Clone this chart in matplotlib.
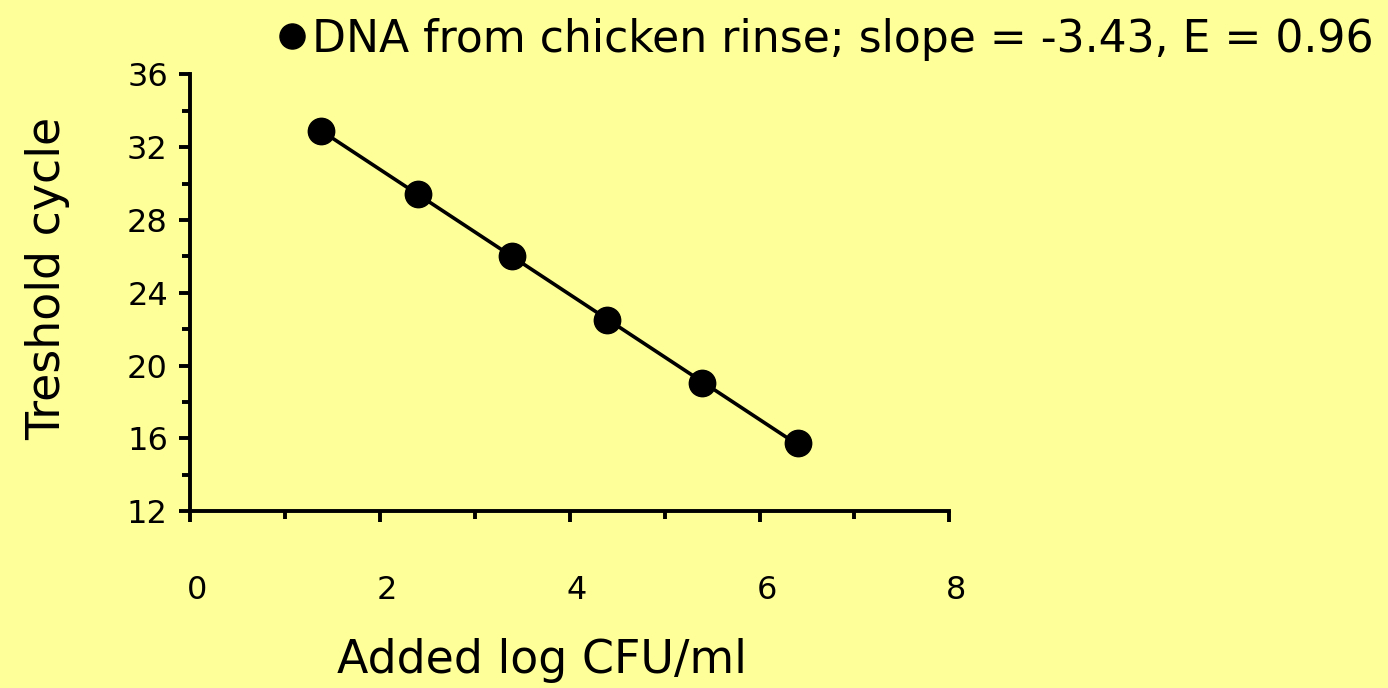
import numpy as np
import matplotlib
matplotlib.use('Agg')
import matplotlib.pyplot as plt
import matplotlib.transforms as mtransforms
from matplotlib.ticker import MultipleLocator

# Data
log_cfu = [1.38, 2.40, 3.39, 4.39, 5.39, 6.40]
ct = [32.9, 29.45, 26.0, 22.5, 19.05, 15.75]
legend_label = 'DNA from chicken rinse; slope = -3.43, E = 0.96'
x_ticks = [0, 2, 4, 6, 8]
y_ticks = [12, 16, 20, 24, 28, 32, 36]

bg = '#FFFF99'
plt.rcParams['font.family'] = ['DejaVu Sans']

fig = plt.figure(figsize=(13.88, 6.88), dpi=100, facecolor=bg)
ax = fig.add_axes([0.137, 0.257, 0.547, 0.635])
ax.set_facecolor(bg)

# fit line across the measured range
k, b = np.polyfit(log_cfu, ct, 1)
xs = np.array([min(log_cfu), max(log_cfu)])
ax.plot(xs, k * xs + b, color='black', lw=2.6, zorder=2)
ax.plot(log_cfu, ct, 'o', color='black', ms=19, zorder=3, label=legend_label)

ax.set_xlim(0, 8)
ax.set_ylim(12, 36)
ax.set_xticks(x_ticks)
ax.set_yticks(y_ticks)
ax.xaxis.set_minor_locator(MultipleLocator(1))
ax.yaxis.set_minor_locator(MultipleLocator(2))

for side in ['top', 'right']:
    ax.spines[side].set_visible(False)
for side in ['left', 'bottom']:
    ax.spines[side].set_linewidth(2.8)

ax.tick_params(axis='both', which='major', direction='out', length=8, width=2.8, labelsize=23)
ax.tick_params(axis='both', which='minor', direction='out', length=6, width=2.8)
ax.tick_params(axis='x', which='major', pad=38)
ax.tick_params(axis='y', which='major', pad=8)

# x tick labels sit a little right of their ticks in the original
shift = mtransforms.ScaledTranslation(0.07, 0, fig.dpi_scale_trans)
for lbl in ax.get_xticklabels():
    lbl.set_transform(lbl.get_transform() + shift)

ax.set_xlabel('Added log CFU/ml', fontsize=33)
ax.set_ylabel('Treshold cycle', fontsize=33)
ax.xaxis.set_label_coords(0.463, -0.29)
ax.yaxis.set_label_coords(-0.158, 0.533)

fig.legend(loc='upper left', bbox_to_anchor=(0.19, 1.0), frameon=False,
           fontsize=31.8, handlelength=0.5, handletextpad=0.2, markerscale=0.95,
           borderaxespad=0)

fig.savefig('out.png', dpi=100, facecolor=bg)
